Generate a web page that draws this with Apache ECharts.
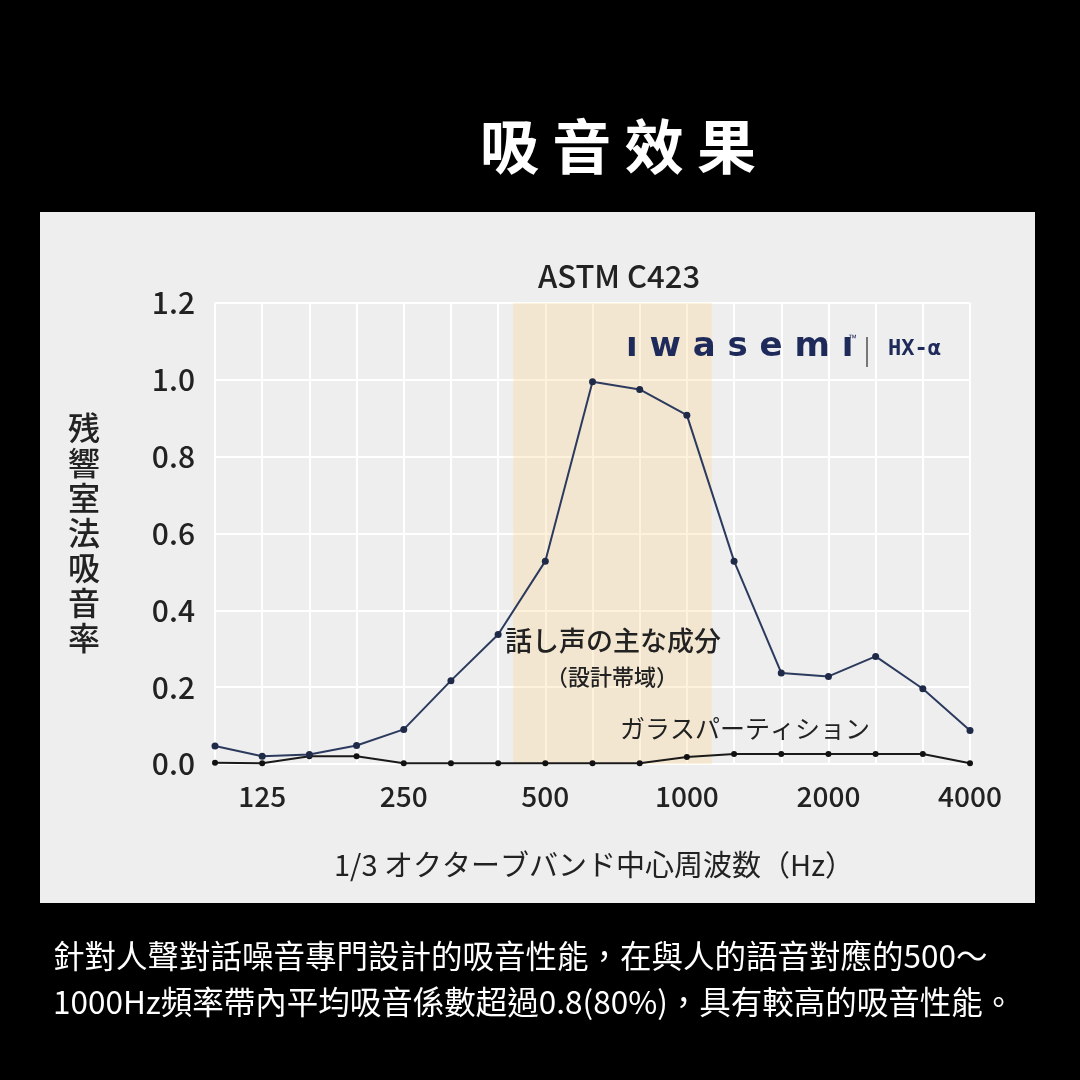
<!DOCTYPE html>
<html>
<head>
<meta charset="utf-8">
<script src="https://cdn.jsdelivr.net/npm/echarts@6/dist/echarts.min.js"></script>
<style>
html,body{margin:0;padding:0;background:#000;}
#c{width:1080px;height:1080px;}
</style>
</head>
<body>
<div id="c"></div>
<script>
var frequencies = [100,125,160,200,250,315,400,500,630,800,1000,1250,1600,2000,2500,3150,4000];
var tickLabels = ['', '125', '', '', '250', '', '', '500', '', '', '1000', '', '', '2000', '', '', '4000'];
var hxAlpha = [0.047,0.020,0.025,0.048,0.090,0.217,0.337,0.528,0.995,0.975,0.908,0.528,0.237,0.228,0.280,0.196,0.087];
var glassPartition = [0.003,0.002,0.020,0.020,0.002,0.002,0.002,0.002,0.002,0.002,0.018,0.026,0.026,0.026,0.026,0.026,0.002];
var speechBand = [6.32, 10.53];

var font = '"Noto Sans CJK JP", "Noto Sans", sans-serif';
var fontTC = '"Noto Sans CJK TC", "Noto Sans", sans-serif';

function pairs(arr){ return arr.map(function(v,i){ return [i, v]; }); }

var chart = echarts.init(document.getElementById('c'));
chart.setOption({
  backgroundColor: '#000000',
  animation: false,
  title: [{
    text: '吸 音 效 果', left: 613, top: 112, textAlign: 'center',
    textStyle: {color: '#ffffff', fontSize: 59, fontWeight: 'bold', fontFamily: fontTC}
  },{
    text: 'ASTM C423', left: 614, top: 256, textAlign: 'center',
    textStyle: {color: '#222222', fontSize: 31, fontWeight: 500, fontFamily: font}
  }],
  graphic: [
    {type: 'rect', z: -10, shape: {x: 40, y: 212, width: 995, height: 691}, style: {fill: '#eeeeee'}},
    {type: 'text', left: 68, top: 410, z: 10, style: {text: '残\n響\n室\n法\n吸\n音\n率', fill: '#222', font: '500 32px ' + font, lineHeight: 35}},
    {type: 'text', left: 334, top: 850, z: 10, style: {text: '1/3 オクターブバンド中心周波数（Hz）', fill: '#222', font: '29px ' + font}},
    {type: 'text', left: 505, top: 627, z: 10, style: {text: '話し声の主な成分', fill: '#222', font: '500 27px ' + font}},
    {type: 'text', left: 546, top: 666, z: 10, style: {text: '（設計帯域）', fill: '#222', font: '500 22px ' + font}},
    {type: 'text', left: 620, top: 716, z: 10, style: {text: 'ガラスパーティション', fill: '#222', font: '25px ' + font}},
    {type: 'text', left: 626, top: 330, z: 10, style: {text: 'ı w a s e m ı', fill: '#1e2a5a', font: 'bold 34px "DejaVu Sans", sans-serif'}},
    {type: 'text', left: 848, top: 334, z: 10, style: {text: '™', fill: '#1e2a5a', font: '9px sans-serif'}},
    {type: 'rect', z: 10, shape: {x: 866, y: 337, width: 2, height: 30}, style: {fill: '#777'}},
    {type: 'text', left: 888, top: 338, z: 10, style: {text: 'HX-α', fill: '#1e2a5a', font: 'bold 22px "DejaVu Sans Mono", monospace'}},
    {type: 'text', left: 53, top: 940, z: 10, style: {text: '針對人聲對話噪音專門設計的吸音性能，在與人的語音對應的500～', fill: '#ffffff', font: '31.5px ' + fontTC}},
    {type: 'text', left: 53, top: 986, z: 10, style: {text: '1000Hz頻率帶內平均吸音係數超過0.8(80%)，具有較高的吸音性能。', fill: '#ffffff', font: '31.5px ' + fontTC}}
  ],
  grid: {left: 215, right: 110, top: 303, bottom: 316, containLabel: false},
  xAxis: {
    type: 'value', min: 0, max: frequencies.length - 1, interval: 1,
    axisLine: {show: false}, axisTick: {show: false},
    axisLabel: {
      color: '#222', fontSize: 28, fontWeight: 500, fontFamily: font, margin: 18,
      formatter: function(v){ return tickLabels[Math.round(v)] || ''; }
    },
    splitLine: {show: true, lineStyle: {color: '#ffffff', width: 2}}
  },
  yAxis: {
    type: 'value', min: 0, max: 1.2, interval: 0.2,
    axisLine: {show: false}, axisTick: {show: false},
    axisLabel: {
      color: '#222', fontSize: 30, fontWeight: 500, fontFamily: font, margin: 20,
      formatter: function(v){ return v.toFixed(1); }
    },
    splitLine: {show: true, lineStyle: {color: '#ffffff', width: 2}}
  },
  series: [
    {
      name: 'HX-α', type: 'line', data: pairs(hxAlpha), z: 5,
      symbol: 'circle', symbolSize: 7,
      lineStyle: {color: '#2c3a5e', width: 2},
      itemStyle: {color: '#1f2a48'},
      markArea: {
        silent: true,
        itemStyle: {color: 'rgba(255,214,150,0.32)'},
        data: [[{xAxis: speechBand[0]}, {xAxis: speechBand[1]}]]
      }
    },
    {
      name: 'ガラスパーティション', type: 'line', data: pairs(glassPartition), z: 4,
      symbol: 'circle', symbolSize: 6,
      lineStyle: {color: '#1a1a1a', width: 2},
      itemStyle: {color: '#111111'}
    }
  ]
});
</script>
</body>
</html>
